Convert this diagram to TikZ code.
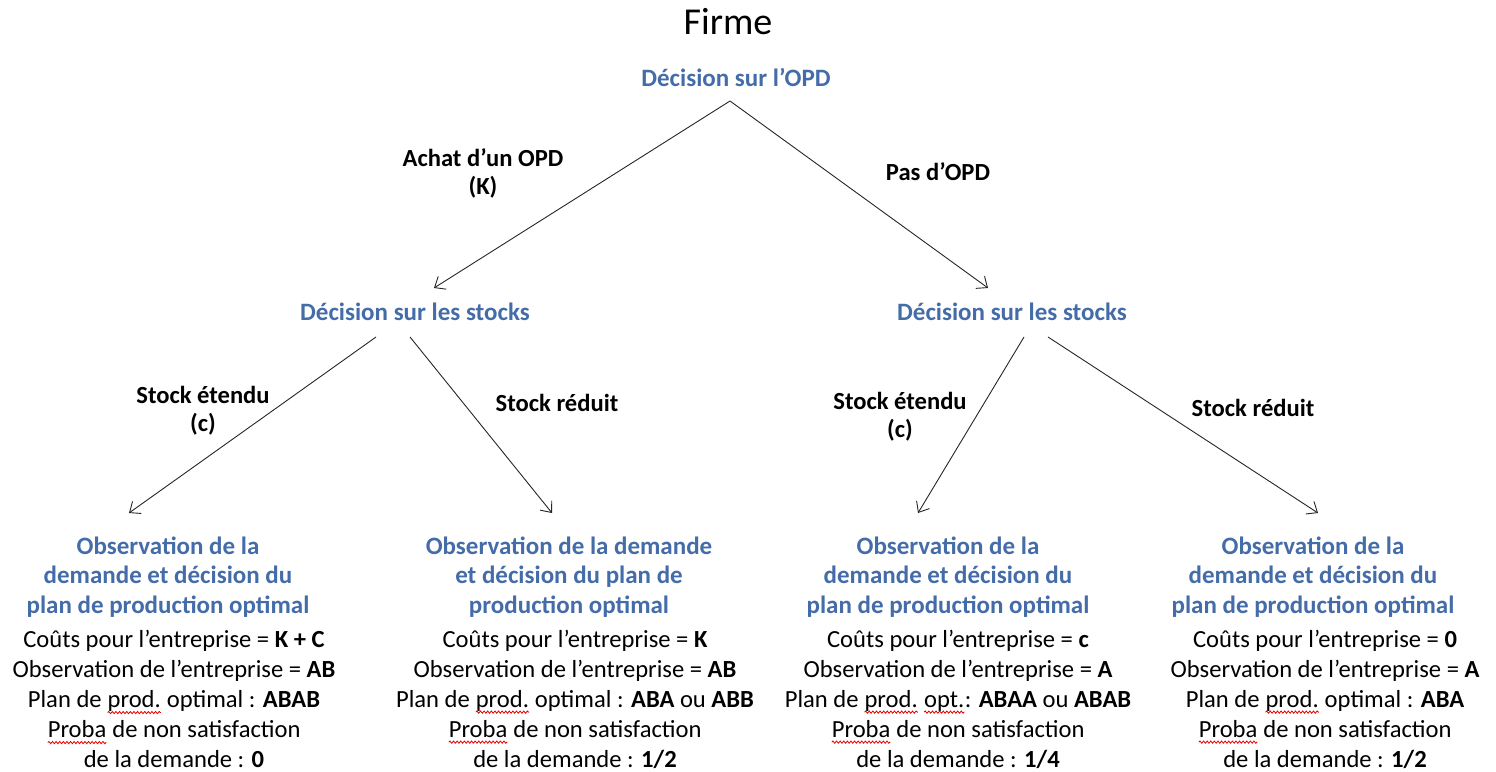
\documentclass[tikz,border=0pt]{standalone}
\usepackage{fontspec}
\setmainfont{Carlito}
\usetikzlibrary{arrows.meta,decorations.pathmorphing}
\definecolor{hblue}{RGB}{68,108,168}
\newcommand\wavy[1]{\tikz[baseline=(w.base)]{\node[inner sep=0pt,outer sep=0pt,anchor=base,font=](w){#1};\draw[red!90!black,line width=0.8pt,decorate,decoration={snake,amplitude=1.1pt,segment length=3.6pt}]([yshift=-5pt]w.base west)--([yshift=-5pt]w.base east);}}
\begin{document}
\begin{tikzpicture}[x=1pt,y=-1pt,
  hdr/.style={font=\fontsize{25}{29.6}\selectfont\bfseries, text=hblue, align=center, inner sep=0pt},
  body/.style={font=\fontsize{24.6}{30}\selectfont, align=center, inner sep=0pt},
  lab/.style={font=\fontsize{24.6}{28}\selectfont\bfseries, align=center, inner sep=0pt},
  arr/.style={-{Straight Barb[length=9pt,width=15pt]}, line width=0.9pt, black!85}]
\useasboundingbox (0,0) rectangle (1496,771);
\node[font=\fontsize{38}{42}\selectfont] (title) at (728,22) {Firme};
\node[hdr] (root) at (736,77) {Décision sur l’OPD};
\node[hdr] (m1) at (415,312) {Décision sur les stocks};
\node[hdr] (m2) at (1012,312) {Décision sur les stocks};
% edge labels
\node[lab] (la) at (483,173) {Achat d’un OPD\\(K)};
\node[lab] (lb) at (938,172) {Pas d’OPD};
\node[lab] (lc) at (203,411) {Stock étendu\\(c)};
\node[lab] (ld) at (557,403) {Stock réduit};
\node[lab] (le) at (900,417) {Stock étendu\\(c)};
\node[lab] (lf) at (1253,408) {Stock réduit};
% leaves
\node[hdr] (h1) at (168,577) {Observation de la\\demande et décision du\\plan de production optimal};
\node[body] (b1) at (174,699) {Coûts pour l’entreprise = \textbf{K + C}\\Observation de l’entreprise = \textbf{AB}\\Plan de \wavy{prod.} optimal : \textbf{ABAB}\\\wavy{Proba} de non satisfaction\\de la demande : \textbf{0}};
\node[hdr] (h2) at (569,577) {Observation de la demande\\et décision du plan de\\production optimal};
\node[body] (b2) at (575,699) {Coûts pour l’entreprise = \textbf{K}\\Observation de l’entreprise = \textbf{AB}\\Plan de \wavy{prod.} optimal : \textbf{ABA} ou \textbf{ABB}\\\wavy{Proba} de non satisfaction\\de la demande : \textbf{1/2}};
\node[hdr] (h3) at (948,577) {Observation de la\\demande et décision du\\plan de production optimal};
\node[body] (b3) at (958,699) {Coûts pour l’entreprise = \textbf{c}\\Observation de l’entreprise = \textbf{A}\\Plan de \wavy{prod.} \wavy{opt.}: \textbf{ABAA} ou \textbf{ABAB}\\\wavy{Proba} de non satisfaction\\de la demande : \textbf{1/4}};
\node[hdr] (h4) at (1313,577) {Observation de la\\demande et décision du\\plan de production optimal};
\node[body] (b4) at (1325,699) {Coûts pour l’entreprise = \textbf{0}\\Observation de l’entreprise = \textbf{A}\\Plan de \wavy{prod.} optimal : \textbf{ABA}\\\wavy{Proba} de non satisfaction\\de la demande : \textbf{1/2}};
% connector points
\coordinate (apex) at (730,101);
\coordinate (t1) at (434,288);
\coordinate (t2) at (988,288);
\coordinate (s1) at (376,337);
\coordinate (s2) at (410,337);
\coordinate (s3) at (1024,337);
\coordinate (s4) at (1048,337);
\coordinate (t3) at (129,513);
\coordinate (t4) at (552,513);
\coordinate (t5) at (918,513);
\coordinate (t6) at (1318,513);
\draw[arr] (apex) -- (t1);
\draw[arr] (apex) -- (t2);
\draw[arr] (s1) -- (t3);
\draw[arr] (s2) -- (t4);
\draw[arr] (s3) -- (t5);
\draw[arr] (s4) -- (t6);
\end{tikzpicture}
\end{document}
